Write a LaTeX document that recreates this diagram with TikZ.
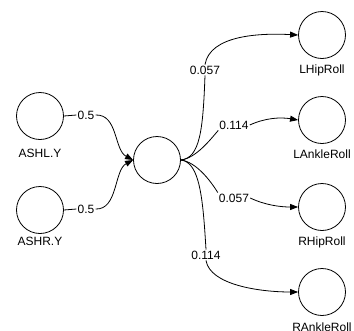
\documentclass[tikz,border=0pt]{standalone}
\usepackage{fontspec}
\setmainfont{Liberation Sans}
\usetikzlibrary{arrows.meta}
\begin{document}
\begin{tikzpicture}[x=1pt,y=-1pt,
  every node/.style={font=\fontsize{12}{14}\selectfont},
  neuron/.style={circle,draw,line width=0.8pt,minimum size=47pt,inner sep=0pt},
  captxt/.style={inner sep=1pt},
  wlbl/.style={fill=white,inner sep=1pt},
  conn/.style={line width=0.8pt},
  arr/.style={conn,-{Triangle[length=8pt,width=6pt]}}]
\useasboundingbox (0,0) rectangle (354,330);
% nodes
\node[neuron] (ashl) at (40,116) {};
\node[captxt] (ashlt) at (40,153) {ASHL.Y};
\node[neuron] (ashr) at (40,210) {};
\node[captxt] (ashrt) at (40,241) {ASHR.Y};
\node[neuron] (c) at (157,160) {};
\node[neuron] (lhip) at (322,35) {};
\node[captxt] (lhipt) at (322,70) {LHipRoll};
\node[neuron] (lank) at (322,120) {};
\node[captxt] (lankt) at (322,154) {LAnkleRoll};
\node[neuron] (rhip) at (322,207) {};
\node[captxt] (rhipt) at (322,242) {RHipRoll};
\node[neuron] (rank) at (322,292) {};
\node[captxt] (rankt) at (322,327) {RAnkleRoll};
% label nodes
\node[wlbl] (w1) at (86,115) {0.5};
\node[wlbl] (w2) at (86,209) {0.5};
\node[wlbl] (w3) at (205,70) {0.057};
\node[wlbl] (w4) at (234,125) {0.114};
\node[wlbl] (w5) at (234,198) {0.057};
\node[wlbl] (w6) at (206,255) {0.114};
% edges in
\draw[conn] (ashl.east) -- (w1.west);
\draw[arr] (w1.east) .. controls (118,114) and (114,150) .. (c.west);
\draw[conn] (ashr.east) -- (w2.west);
\draw[arr] (w2.east) .. controls (118,210) and (114,170) .. (c.west);
% edges out
\draw[conn] (c.east) .. controls (200,158) and (203,130) .. (w3.south);
\draw[arr] (w3.north) .. controls (210,35) and (260,33) .. (lhip.west);
\draw[conn] (c.east) .. controls (196,158) and (210,140) .. (w4.south west);
\draw[arr] (w4.east) .. controls (265,118) and (280,117) .. (lank.west);
\draw[conn] (c.east) .. controls (196,162) and (210,180) .. (w5.north west);
\draw[arr] (w5.east) .. controls (265,205) and (280,207) .. (rhip.west);
\draw[conn] (c.east) .. controls (200,162) and (203,200) .. (w6.north);
\draw[arr] (w6.south) .. controls (210,285) and (260,292) .. (rank.west);
\end{tikzpicture}
\end{document}
